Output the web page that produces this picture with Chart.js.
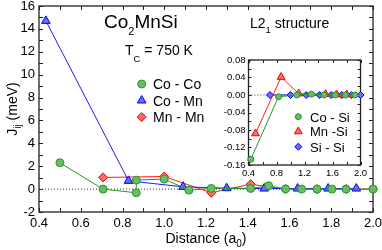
<!DOCTYPE html>
<html>
<head>
<meta charset="utf-8">
<script src="https://cdn.jsdelivr.net/npm/chart.js@4.4.1/dist/chart.umd.min.js"></script>
<style>
html, body { margin: 0; padding: 0; background: #fff; }
#wrap { position: relative; width: 382px; height: 250px; }
#main { position: absolute; left: 0; top: 0; }
#inset { position: absolute; left: 205px; top: 50px; }
</style>
</head>
<body>
<div id="wrap">
  <canvas id="main" width="382" height="250" style="width:382px;height:250px"></canvas>
  <canvas id="inset" width="165" height="135" style="width:165px;height:135px"></canvas>
</div>
<script>
const FONT = '"Liberation Sans", Arial, Helvetica, sans-serif';

// ---- panel principal: J_ij en meV ----
const xTicksMain = [0.4, 0.6, 0.8, 1.0, 1.2, 1.4, 1.6, 1.8, 2.0];
const xMinorMain = [0.5, 0.7, 0.9, 1.1, 1.3, 1.5, 1.7, 1.9];
const yTicksMain = [-2, 0, 2, 4, 6, 8, 10, 12, 14, 16];
const yMinorMain = [-1, 1, 3, 5, 7, 9, 11, 13, 15];

const coCoDist = [0.5, 0.707, 0.866, 0.866, 1.0, 1.118, 1.225, 1.414, 1.5, 1.581, 1.658, 1.732, 1.803, 1.871, 2.0];
const coCoJ    = [2.3, 0.0, -0.32, 0.78, 0.88, -0.09, 0.06, 0.06, 0.29, 0.02, 0.0, 0.0, 0.0, 0.0, 0.0];

const coMnDist = [0.433, 0.829, 1.090, 1.299, 1.479, 1.639, 1.785, 1.920];
const coMnJ    = [14.7, 0.72, 0.2, 0.08, 0.05, 0.05, 0.05, 0.05];

const mnMnDist = [0.707, 1.0, 1.225, 1.414, 1.581, 1.732, 1.871, 2.0];
const mnMnJ    = [1.02, 1.1, -0.32, 0.43, 0.0, 0.0, 0.0, 0.0];

const zeroLineX = [0.4, 2.0];

// ---- inset: enlace con Si ----
const xTicksInset = [0.4, 0.8, 1.2, 1.6, 2.0];
const xMinorInset = [0.6, 1.0, 1.4, 1.8];
const yTicksInset = [-0.16, -0.12, -0.08, -0.04, 0.0, 0.04, 0.08];
const yMinorInset = [-0.14, -0.10, -0.06, -0.02, 0.02, 0.06];

const coSiDist = [0.433, 0.829, 1.090, 1.299, 1.479, 1.639, 1.785, 1.920];
const coSiJ    = [-0.147, -0.004, 0.0, 0.002, 0.0, 0.0, 0.0, 0.0];

const mnSiDist = [0.5, 0.866, 1.118, 1.5, 1.658, 1.803];
const mnSiJ    = [-0.088, 0.041, 0.003, 0.002, 0.001, 0.001];

const siSiDist = [0.707, 1.0, 1.225, 1.414, 1.581, 1.732, 1.871, 2.0];
const siSiJ    = [0.0, 0.0, 0.0, 0.0, 0.0, 0.0, 0.0, 0.0];

const GREEN = { line: '#229a22', fill: '#66bd66', edge: '#2a942a' };
const BLUE  = { line: '#1a1aff', fill: '#6b6bff', edge: '#0000ee' };
const RED   = { line: '#ff1a1a', fill: '#ff6b6b', edge: '#ee0000' };

function toPoints(xs, ys) {
    return xs.map((x, i) => ({ x: x, y: ys[i] }));
}

function serie(label, xs, ys, col, style, r) {
    return {
        label: label,
        data: toPoints(xs, ys),
        showLine: true,
        borderColor: col.line,
        borderWidth: 1,
        backgroundColor: col.fill,
        pointStyle: style,
        pointRadius: r,
        pointBackgroundColor: col.fill,
        pointBorderColor: col.edge,
        pointBorderWidth: 1,
        clip: 10,
        order: 1
    };
}

function zeroLine() {
    return {
        data: toPoints(zeroLineX, [0, 0]),
        showLine: true,
        borderColor: '#333',
        borderWidth: 1,
        borderDash: [1, 2],
        pointRadius: 0,
        order: 5
    };
}

// texto con subindices: partes [texto, esSub]
function richText(ctx, parts, x, y, size, subSize, subDrop) {
    let cx = x;
    ctx.textBaseline = 'alphabetic';
    ctx.textAlign = 'left';
    parts.forEach(p => {
        const s = p[1] ? subSize : size;
        ctx.font = s + 'px ' + FONT;
        ctx.fillText(p[0], cx, y + (p[1] ? subDrop : 0));
        cx += ctx.measureText(p[0]).width;
    });
    return cx - x;
}

function richWidth(ctx, parts, size, subSize) {
    let w = 0;
    parts.forEach(p => {
        ctx.font = (p[1] ? subSize : size) + 'px ' + FONT;
        w += ctx.measureText(p[0]).width;
    });
    return w;
}

function drawMarker(ctx, ds, r, x, y) {
    ctx.save();
    ctx.fillStyle = ds.pointBackgroundColor;
    ctx.strokeStyle = ds.pointBorderColor;
    ctx.lineWidth = 1;
    Chart.helpers.drawPoint(ctx, { pointStyle: ds.pointStyle, radius: r, rotation: 0, borderWidth: 1 }, x, y);
    ctx.restore();
}

function drawFrame(chart, xMaj, xMin, yMaj, yMin, len) {
    const { ctx, chartArea: a, scales } = chart;
    const x = scales.x, y = scales.y;
    ctx.save();
    ctx.strokeStyle = '#222';
    ctx.lineWidth = 1;
    ctx.beginPath();
    xMaj.concat(xMin).forEach(v => {
        const px = Math.round(x.getPixelForValue(v)) + 0.5;
        ctx.moveTo(px, a.bottom); ctx.lineTo(px, a.bottom - len);
        ctx.moveTo(px, a.top); ctx.lineTo(px, a.top + len);
    });
    yMaj.concat(yMin).forEach(v => {
        const py = Math.round(y.getPixelForValue(v)) + 0.5;
        ctx.moveTo(a.left, py); ctx.lineTo(a.left + len, py);
        ctx.moveTo(a.right, py); ctx.lineTo(a.right - len, py);
    });
    ctx.stroke();
    ctx.lineWidth = 1.3;
    ctx.strokeRect(a.left, a.top, a.right - a.left, a.bottom - a.top);
    ctx.restore();
}

function axisCfg(min, max, ticks, fmt, size, pad, fitSize, vertical) {
    return {
        type: 'linear',
        min: min,
        max: max,
        grid: { display: false, drawTicks: false },
        border: { display: false },
        ticks: {
            font: { family: FONT, size: size },
            color: '#000',
            padding: pad,
            autoSkip: false,
            maxRotation: 0,
            callback: v => v.toFixed(fmt)
        },
        afterBuildTicks: s => { s.ticks = ticks.map(v => ({ value: v })); },
        afterFit: s => {
            if (vertical) { s.width = fitSize; s.paddingTop = 0; s.paddingBottom = 0; }
            else { s.height = fitSize; s.paddingLeft = 0; s.paddingRight = 0; }
        }
    };
}

// ---- grafico principal ----
const mainDatasets = [
    serie('Co - Co', coCoDist, coCoJ, GREEN, 'circle', 4),
    serie('Co - Mn', coMnDist, coMnJ, BLUE, 'triangle', 5),
    serie('Mn - Mn', mnMnDist, mnMnJ, RED, 'rectRot', 4.5),
    zeroLine()
];

const mainDecor = {
    id: 'mainDecor',
    beforeDatasetsDraw(chart) {
        drawFrame(chart, xTicksMain, xMinorMain, yTicksMain, yMinorMain, 4);
    },
    afterDraw(chart) {
        const ctx = chart.ctx;
        const a = chart.chartArea;
        ctx.save();
        ctx.fillStyle = '#000';
        richText(ctx, [['Co', false], ['2', true], ['MnSi', false]], 104, 28, 19, 11, 7);
        richText(ctx, [['T', false], ['C', true], [' = 750 K', false]], 125, 55, 14, 9.5, 6.5);
        richText(ctx, [['L2', false], ['1', true], [' structure', false]], 250, 28, 14, 9.5, 5);

        // leyenda
        const rows = [84, 100.5, 117];
        [0, 1, 2].forEach((i, k) => {
            const ds = chart.data.datasets[i];
            drawMarker(ctx, ds, ds.pointRadius, 141.7, rows[k]);
            ctx.fillStyle = '#000';
            ctx.font = '14px ' + FONT;
            ctx.textBaseline = 'alphabetic';
            ctx.textAlign = 'left';
            ctx.fillText(ds.label, 153, rows[k] + 5.3);
        });

        // titulo eje x
        const xt = [['Distance (a', false], ['0', true], [')', false]];
        const wx = richWidth(ctx, xt, 14, 10);
        richText(ctx, xt, (a.left + a.right) / 2 - wx / 2, 243, 14, 10, 4);

        // titulo eje y
        const yt = [['J', false], ['ij', true], [' (meV)', false]];
        const wy = richWidth(ctx, yt, 14, 10);
        ctx.translate(17, (a.top + a.bottom) / 2);
        ctx.rotate(-Math.PI / 2);
        richText(ctx, yt, -wy / 2, 0, 14, 10, 4);
        ctx.restore();
    }
};

new Chart(document.getElementById('main'), {
    type: 'scatter',
    data: { datasets: mainDatasets },
    options: {
        responsive: false,
        animation: false,
        events: [],
        layout: { padding: { left: 0, right: 9, top: 5, bottom: 0 } },
        plugins: { legend: { display: false }, tooltip: { enabled: false } },
        scales: {
            x: axisCfg(0.4, 2.0, xTicksMain, 1, 13, 4, 38, false),
            y: axisCfg(-2, 16, yTicksMain, 0, 13, 4, 39, true)
        }
    },
    plugins: [mainDecor]
});

// ---- inset ----
const INSET_X = 205, INSET_Y = 50;

const insetDatasets = [
    serie('Co - Si', coSiDist, coSiJ, GREEN, 'circle', 3),
    serie('Mn -Si', mnSiDist, mnSiJ, RED, 'triangle', 4.5),
    serie('Si - Si', siSiDist, siSiJ, BLUE, 'rectRot', 3.5),
    zeroLine()
];

const insetDecor = {
    id: 'insetDecor',
    beforeDraw(chart) {
        const { ctx, chartArea: a } = chart;
        ctx.save();
        ctx.fillStyle = '#fff';
        ctx.fillRect(a.left, a.top, a.right - a.left, a.bottom - a.top);
        ctx.restore();
    },
    beforeDatasetsDraw(chart) {
        drawFrame(chart, xTicksInset, xMinorInset, yTicksInset, yMinorInset, 3);
    },
    afterDraw(chart) {
        const ctx = chart.ctx;
        ctx.save();
        const rows = [116.7, 131.5, 146.7];
        [0, 1, 2].forEach((i, k) => {
            const ds = chart.data.datasets[i];
            drawMarker(ctx, ds, ds.pointRadius, 298.3 - INSET_X, rows[k] - INSET_Y);
            ctx.fillStyle = '#000';
            ctx.font = '13px ' + FONT;
            ctx.textBaseline = 'alphabetic';
            ctx.textAlign = 'left';
            ctx.fillText(ds.label, 310 - INSET_X, rows[k] - INSET_Y + 4.8);
        });
        ctx.restore();
    }
};

new Chart(document.getElementById('inset'), {
    type: 'scatter',
    data: { datasets: insetDatasets },
    options: {
        responsive: false,
        animation: false,
        events: [],
        layout: { padding: { left: 0, right: 9.5, top: 10, bottom: 0 } },
        plugins: { legend: { display: false }, tooltip: { enabled: false } },
        scales: {
            x: axisCfg(0.4, 2.0, xTicksInset, 1, 9.5, 3, 20, false),
            y: axisCfg(-0.16, 0.08, yTicksInset, 2, 9.5, 3, 43.5, true)
        }
    },
    plugins: [insetDecor]
});
</script>
</body>
</html>
